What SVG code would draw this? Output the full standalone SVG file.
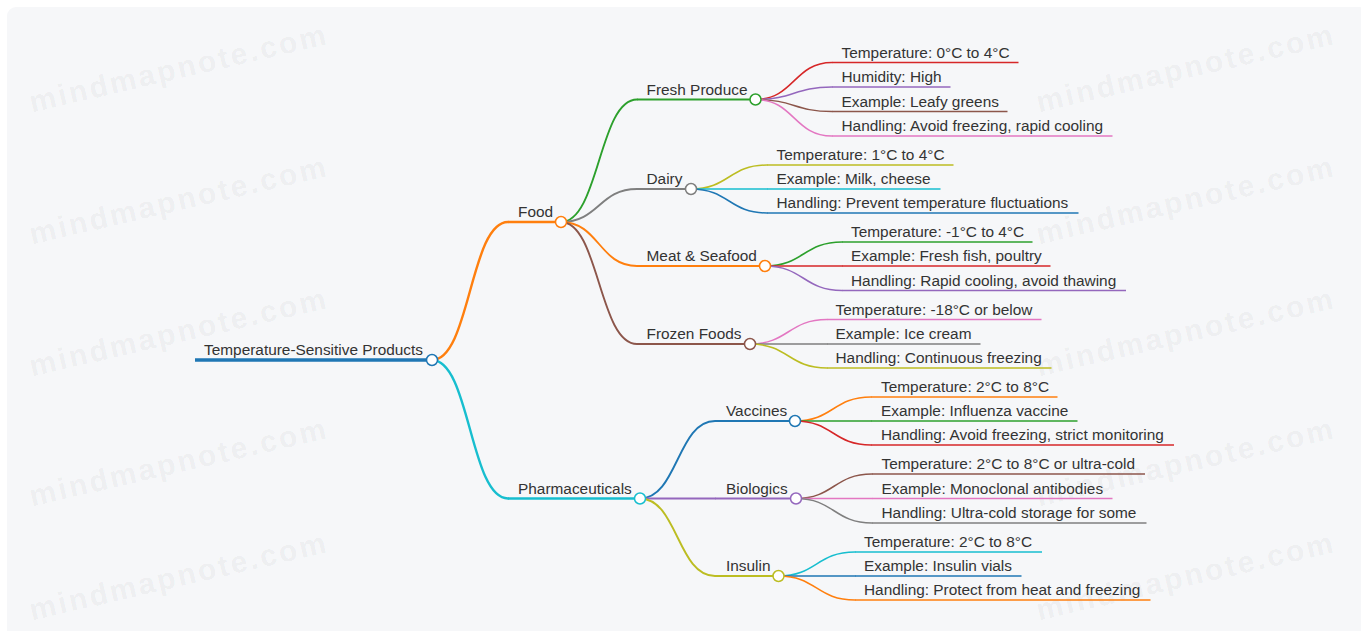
<svg xmlns="http://www.w3.org/2000/svg" width="1361" height="631" viewBox="0 0 1361 631">
<style>
  text { font-family: "Liberation Sans", Arial, sans-serif; }
  .t { font-size: 15.4px; fill: #333333; }
  .wm { font-size: 30px; font-weight: bold; letter-spacing: 2.6px; fill: #000000; fill-opacity: 0.05; text-anchor: middle; }
  .lk { fill: none; stroke-linecap: round; }
  .l1 { stroke-width: 2.4; }
  .l2 { stroke-width: 1.9; }
  .l3 { stroke-width: 1.5; }
  .nl { fill: none; }
  .d0 { stroke-width: 3.6; }
  .d1 { stroke-width: 2.6; }
  .d2 { stroke-width: 2; }
  .d3 { stroke-width: 1.6; }
  .c { fill: #ffffff; stroke-width: 1.5; }
</style>
<rect x="0" y="0" width="1361" height="631" fill="#ffffff"/>
<rect x="7" y="7" width="1361" height="640" rx="9" fill="#f6f7f9"/>
<g id="watermarks">
  <text class="wm" x="181" y="78" transform="rotate(-13 181 78)">mindmapnote.com</text>
  <text class="wm" x="181" y="210" transform="rotate(-13 181 210)">mindmapnote.com</text>
  <text class="wm" x="181" y="342" transform="rotate(-13 181 342)">mindmapnote.com</text>
  <text class="wm" x="181" y="472" transform="rotate(-13 181 472)">mindmapnote.com</text>
  <text class="wm" x="181" y="586" transform="rotate(-13 181 586)">mindmapnote.com</text>
  <text class="wm" x="1188" y="78" transform="rotate(-13 1188 78)">mindmapnote.com</text>
  <text class="wm" x="1188" y="210" transform="rotate(-13 1188 210)">mindmapnote.com</text>
  <text class="wm" x="1188" y="342" transform="rotate(-13 1188 342)">mindmapnote.com</text>
  <text class="wm" x="1188" y="472" transform="rotate(-13 1188 472)">mindmapnote.com</text>
  <text class="wm" x="1188" y="586" transform="rotate(-13 1188 586)">mindmapnote.com</text>
</g>
<g id="connectors">
  <path class="lk l1" stroke="#ff7f0e" d="M432,360 C470,360 470,222 508,222"/>
  <path class="lk l1" stroke="#17becf" d="M432,360 C470,360 470,498.5 508,498.5"/>
  <path class="lk l2" stroke="#2ca02c" d="M561,222 C599,222 599,99.5 637,99.5"/>
  <path class="lk l2" stroke="#7f7f7f" d="M561,222 C599,222 599,189 637,189"/>
  <path class="lk l2" stroke="#ff7f0e" d="M561,222 C599,222 599,266 637,266"/>
  <path class="lk l2" stroke="#8c564b" d="M561,222 C599,222 599,344 637,344"/>
  <path class="lk l2" stroke="#1f77b4" d="M640,498.5 C677.5,498.5 677.5,421 715,421"/>
  <path class="lk l2" stroke="#9467bd" d="M640,498.5 C677.5,498.5 677.5,498.5 715,498.5"/>
  <path class="lk l2" stroke="#bcbd22" d="M640,498.5 C677.5,498.5 677.5,576 715,576"/>
  <path class="lk l3" stroke="#d62728" d="M755.5,99.5 C794,99.5 794,62.5 832,62.5"/>
  <path class="lk l3" stroke="#9467bd" d="M755.5,99.5 C794,99.5 794,87 832,87"/>
  <path class="lk l3" stroke="#8c564b" d="M755.5,99.5 C794,99.5 794,111.5 832,111.5"/>
  <path class="lk l3" stroke="#e377c2" d="M755.5,99.5 C794,99.5 794,136 832,136"/>
  <path class="lk l3" stroke="#bcbd22" d="M691,189 C729,189 729,165 767,165"/>
  <path class="lk l3" stroke="#17becf" d="M691,189 C729,189 729,189 767,189"/>
  <path class="lk l3" stroke="#1f77b4" d="M691,189 C729,189 729,213 767,213"/>
  <path class="lk l3" stroke="#2ca02c" d="M765,266 C803.5,266 803.5,242 842,242"/>
  <path class="lk l3" stroke="#d62728" d="M765,266 C803.5,266 803.5,266 842,266"/>
  <path class="lk l3" stroke="#9467bd" d="M765,266 C803.5,266 803.5,290.5 842,290.5"/>
  <path class="lk l3" stroke="#e377c2" d="M750,344 C788.5,344 788.5,319.5 827,319.5"/>
  <path class="lk l3" stroke="#7f7f7f" d="M750,344 C788.5,344 788.5,344 827,344"/>
  <path class="lk l3" stroke="#bcbd22" d="M750,344 C788.5,344 788.5,368 827,368"/>
  <path class="lk l3" stroke="#ff7f0e" d="M795,421 C833,421 833,397 871,397"/>
  <path class="lk l3" stroke="#2ca02c" d="M795,421 C833,421 833,421 871,421"/>
  <path class="lk l3" stroke="#d62728" d="M795,421 C833,421 833,445 871,445"/>
  <path class="lk l3" stroke="#8c564b" d="M796,498.5 C834,498.5 834,474 872,474"/>
  <path class="lk l3" stroke="#e377c2" d="M796,498.5 C834,498.5 834,498.5 872,498.5"/>
  <path class="lk l3" stroke="#7f7f7f" d="M796,498.5 C834,498.5 834,523 872,523"/>
  <path class="lk l3" stroke="#17becf" d="M778.5,576 C816.5,576 816.5,552 855,552"/>
  <path class="lk l3" stroke="#1f77b4" d="M778.5,576 C816.5,576 816.5,576 855,576"/>
  <path class="lk l3" stroke="#ff7f0e" d="M778.5,576 C816.5,576 816.5,600 855,600"/>
</g>
<g id="root">
  <line class="nl d0" x1="195" y1="360" x2="432" y2="360" stroke="#1f77b4"/>
  <text class="t" x="204" y="355">Temperature-Sensitive Products</text>
  <circle class="c" cx="432" cy="360" r="5.5" stroke="#1f77b4"/>
</g>
<g id="food">
  <line class="nl d1" x1="508" y1="222" x2="561" y2="222" stroke="#ff7f0e"/>
  <text class="t" x="518" y="217">Food</text>
  <circle class="c" cx="561" cy="222" r="5.5" stroke="#ff7f0e"/>
</g>
<g id="pharmaceuticals">
  <line class="nl d1" x1="508" y1="498.5" x2="640" y2="498.5" stroke="#17becf"/>
  <text class="t" x="518" y="493.5">Pharmaceuticals</text>
  <circle class="c" cx="640" cy="498.5" r="5.5" stroke="#17becf"/>
</g>
<g id="fresh-produce">
  <line class="nl d2" x1="637" y1="99.5" x2="755.5" y2="99.5" stroke="#2ca02c"/>
  <text class="t" x="646.5" y="94.8">Fresh Produce</text>
  <circle class="c" cx="755.5" cy="99.5" r="5.5" stroke="#2ca02c"/>
</g>
<g id="fp-temp">
  <line class="nl d3" x1="832" y1="62.5" x2="1018.5" y2="62.5" stroke="#d62728"/>
  <text class="t" x="841.5" y="57.8">Temperature: 0°C to 4°C</text>
</g>
<g id="fp-humidity">
  <line class="nl d3" x1="832" y1="87" x2="950.5" y2="87" stroke="#9467bd"/>
  <text class="t" x="841.5" y="82.3">Humidity: High</text>
</g>
<g id="fp-example">
  <line class="nl d3" x1="832" y1="111.5" x2="1007.5" y2="111.5" stroke="#8c564b"/>
  <text class="t" x="841.5" y="106.8">Example: Leafy greens</text>
</g>
<g id="fp-handling">
  <line class="nl d3" x1="832" y1="136" x2="1112.5" y2="136" stroke="#e377c2"/>
  <text class="t" x="841.5" y="131.3">Handling: Avoid freezing, rapid cooling</text>
</g>
<g id="dairy">
  <line class="nl d2" x1="637" y1="189" x2="691" y2="189" stroke="#7f7f7f"/>
  <text class="t" x="646.5" y="184.3">Dairy</text>
  <circle class="c" cx="691" cy="189" r="5.5" stroke="#7f7f7f"/>
</g>
<g id="dairy-temp">
  <line class="nl d3" x1="767" y1="165" x2="953.5" y2="165" stroke="#bcbd22"/>
  <text class="t" x="776.5" y="160.3">Temperature: 1°C to 4°C</text>
</g>
<g id="dairy-example">
  <line class="nl d3" x1="767" y1="189" x2="940.5" y2="189" stroke="#17becf"/>
  <text class="t" x="776.5" y="184.3">Example: Milk, cheese</text>
</g>
<g id="dairy-handling">
  <line class="nl d3" x1="767" y1="213" x2="1078.5" y2="213" stroke="#1f77b4"/>
  <text class="t" x="776.5" y="208.3">Handling: Prevent temperature fluctuations</text>
</g>
<g id="meat-seafood">
  <line class="nl d2" x1="637" y1="266" x2="765" y2="266" stroke="#ff7f0e"/>
  <text class="t" x="646.5" y="261.3">Meat &amp; Seafood</text>
  <circle class="c" cx="765" cy="266" r="5.5" stroke="#ff7f0e"/>
</g>
<g id="meat-temp">
  <line class="nl d3" x1="842" y1="242" x2="1032.5" y2="242" stroke="#2ca02c"/>
  <text class="t" x="851" y="237.3">Temperature: -1°C to 4°C</text>
</g>
<g id="meat-example">
  <line class="nl d3" x1="842" y1="266" x2="1050.5" y2="266" stroke="#d62728"/>
  <text class="t" x="851" y="261.3">Example: Fresh fish, poultry</text>
</g>
<g id="meat-handling">
  <line class="nl d3" x1="842" y1="290.5" x2="1126" y2="290.5" stroke="#9467bd"/>
  <text class="t" x="851" y="285.8">Handling: Rapid cooling, avoid thawing</text>
</g>
<g id="frozen-foods">
  <line class="nl d2" x1="637" y1="344" x2="750" y2="344" stroke="#8c564b"/>
  <text class="t" x="646.5" y="339.3">Frozen Foods</text>
  <circle class="c" cx="750" cy="344" r="5.5" stroke="#8c564b"/>
</g>
<g id="frozen-temp">
  <line class="nl d3" x1="827" y1="319.5" x2="1041.5" y2="319.5" stroke="#e377c2"/>
  <text class="t" x="835.5" y="314.8">Temperature: -18°C or below</text>
</g>
<g id="frozen-example">
  <line class="nl d3" x1="827" y1="344" x2="980.5" y2="344" stroke="#7f7f7f"/>
  <text class="t" x="835.5" y="339.3">Example: Ice cream</text>
</g>
<g id="frozen-handling">
  <line class="nl d3" x1="827" y1="368" x2="1051.5" y2="368" stroke="#bcbd22"/>
  <text class="t" x="835.5" y="363.3">Handling: Continuous freezing</text>
</g>
<g id="vaccines">
  <line class="nl d2" x1="715" y1="421" x2="795" y2="421" stroke="#1f77b4"/>
  <text class="t" x="726" y="416.3">Vaccines</text>
  <circle class="c" cx="795" cy="421" r="5.5" stroke="#1f77b4"/>
</g>
<g id="vacc-temp">
  <line class="nl d3" x1="871" y1="397" x2="1057.5" y2="397" stroke="#ff7f0e"/>
  <text class="t" x="881" y="392.3">Temperature: 2°C to 8°C</text>
</g>
<g id="vacc-example">
  <line class="nl d3" x1="871" y1="421" x2="1077.5" y2="421" stroke="#2ca02c"/>
  <text class="t" x="881" y="416.3">Example: Influenza vaccine</text>
</g>
<g id="vacc-handling">
  <line class="nl d3" x1="871" y1="445" x2="1174" y2="445" stroke="#d62728"/>
  <text class="t" x="881" y="440.3">Handling: Avoid freezing, strict monitoring</text>
</g>
<g id="biologics">
  <line class="nl d2" x1="715" y1="498.5" x2="796" y2="498.5" stroke="#9467bd"/>
  <text class="t" x="726" y="493.8">Biologics</text>
  <circle class="c" cx="796" cy="498.5" r="5.5" stroke="#9467bd"/>
</g>
<g id="bio-temp">
  <line class="nl d3" x1="872" y1="474" x2="1145" y2="474" stroke="#8c564b"/>
  <text class="t" x="881.5" y="469.3">Temperature: 2°C to 8°C or ultra-cold</text>
</g>
<g id="bio-example">
  <line class="nl d3" x1="872" y1="498.5" x2="1112.5" y2="498.5" stroke="#e377c2"/>
  <text class="t" x="881.5" y="493.8">Example: Monoclonal antibodies</text>
</g>
<g id="bio-handling">
  <line class="nl d3" x1="872" y1="523" x2="1146.5" y2="523" stroke="#7f7f7f"/>
  <text class="t" x="881.5" y="518.3">Handling: Ultra-cold storage for some</text>
</g>
<g id="insulin">
  <line class="nl d2" x1="715" y1="576" x2="778.5" y2="576" stroke="#bcbd22"/>
  <text class="t" x="726" y="571.3">Insulin</text>
  <circle class="c" cx="778.5" cy="576" r="5.5" stroke="#bcbd22"/>
</g>
<g id="ins-temp">
  <line class="nl d3" x1="855" y1="552" x2="1042" y2="552" stroke="#17becf"/>
  <text class="t" x="864" y="547.3">Temperature: 2°C to 8°C</text>
</g>
<g id="ins-example">
  <line class="nl d3" x1="855" y1="576" x2="1021.5" y2="576" stroke="#1f77b4"/>
  <text class="t" x="864" y="571.3">Example: Insulin vials</text>
</g>
<g id="ins-handling">
  <line class="nl d3" x1="855" y1="600" x2="1150.5" y2="600" stroke="#ff7f0e"/>
  <text class="t" x="864" y="595.3">Handling: Protect from heat and freezing</text>
</g>
</svg>
